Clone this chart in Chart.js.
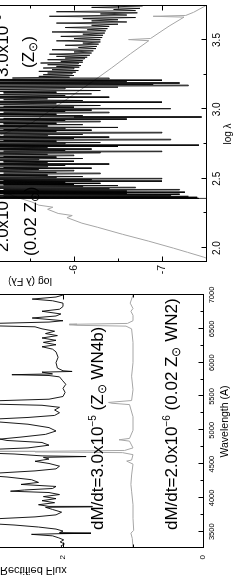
<!DOCTYPE html>
<html>
<head>
<meta charset="utf-8">
<script src="https://cdn.jsdelivr.net/npm/chart.js@4.4.1/dist/chart.umd.min.js"></script>
<style>
  html, body { margin: 0; padding: 0; background: #fff; overflow: hidden; width: 242px; height: 580px; }
  #turn { position: absolute; left: 0; top: 0; width: 580px; height: 422px;
          transform-origin: 0 0; transform: translate(-180px, 580px) rotate(-90deg); }
  #spec { position: absolute; left: 0; top: 0; }
  #sed { position: absolute; left: 286px; top: 0; }
  #fluxTitle { position: absolute; left: 0; top: 565px; font: 11px "Liberation Sans", Arial, sans-serif;
               line-height: 11px; white-space: nowrap; transform: scaleY(-1); }
</style>
</head>
<body>
<div id="turn">
  <canvas id="spec" width="300" height="422"></canvas>
  <canvas id="sed" width="294" height="422"></canvas>
</div>
<div id="fluxTitle">Rectified Flux</div>
<script>
'use strict';

// ---- data ----
// rectified spectra: [wavelength (A), flux]; the Z_sun WN4b model is shifted up by 1
const wn4bFlux = [
  [3260,2.00],[3290,2.03],[3320,1.98],[3350,2.04],[3380,1.99],[3410,2.06],[3440,2.15],[3462,2.45],
  [3472,2.05],[3478,1.60],[3486,2.05],[3510,2.00],[3540,2.10],[3570,2.35],[3600,2.70],[3630,3.20],
  [3660,3.40],[3690,3.00],[3720,2.40],[3750,2.10],[3790,2.02],[3830,2.15],[3862,2.25],[3868,1.58],
  [3875,2.20],[3900,2.35],[3930,2.12],[3960,2.30],[3990,2.10],[4020,2.28],[4050,2.05],[4080,2.20],
  [4100,2.75],[4118,2.55],[4140,2.15],[4170,2.10],[4200,2.60],[4230,2.35],[4270,2.45],[4310,2.80],
  [4340,3.20],[4370,2.90],[4400,2.40],[4430,2.10],[4470,2.05],[4510,2.20],[4542,2.40],[4575,2.20],
  [4600,2.28],[4612,1.67],[4622,2.30],[4650,2.70],[4675,3.40],[4690,3.70],[4705,3.30],[4740,2.50],
  [4780,2.20],[4820,2.30],[4850,2.80],[4870,2.90],[4900,2.60],[4940,2.25],[4990,2.10],[5040,2.20],
  [5090,2.50],[5130,3.00],[5160,3.10],[5190,2.50],[5220,2.12],[5260,2.05],[5300,2.12],[5340,2.05],
  [5370,2.30],[5395,3.30],[5415,3.60],[5435,3.00],[5460,2.20],[5500,2.00],[5560,1.97],[5620,2.00],
  [5680,1.96],[5740,2.01],[5790,2.05],[5810,2.20],[5822,2.73],[5834,2.15],[5860,2.30],[5870,1.87],
  [5880,2.00],[5920,2.08],[6000,2.10],[6080,2.07],[6160,2.10],[6200,2.15],[6235,2.30],[6265,2.10],
  [6300,2.28],[6330,2.10],[6365,2.30],[6400,2.08],[6430,2.25],[6465,2.12],[6500,2.30],[6530,2.40],
  [6550,3.20],[6565,3.70],[6580,3.00],[6600,2.20],[6620,2.00],[6660,2.44],[6690,2.10],[6720,2.03],
  [6760,2.30],[6790,2.05],[6830,2.00],[6880,2.00],[6915,2.15],[6940,2.44],[6970,2.10],[7000,2.00]
];
const wn2Flux = [
  [3260,1.00],[3400,1.01],[3480,1.03],[3520,0.99],[3700,1.00],[3900,1.00],[4100,1.02],[4200,1.03],
  [4340,1.02],[4500,1.00],[4530,1.06],[4545,1.09],[4560,1.02],[4640,1.00],[4670,1.15],[4680,2.40],
  [4686,3.30],[4692,2.40],[4702,1.12],[4740,1.00],[4840,1.05],[4860,1.20],[4880,1.05],[5000,1.00],
  [5200,1.00],[5380,1.05],[5400,1.30],[5412,1.35],[5425,1.20],[5440,1.02],[5600,1.00],[5800,1.02],
  [6000,1.00],[6300,1.00],[6500,1.02],[6540,1.10],[6552,1.80],[6560,1.91],[6568,1.80],[6580,1.08],
  [6620,1.00],[6700,1.00],[6760,1.03],[6800,1.00],[6880,1.04],[6940,1.02],[7000,1.00]
];

// spectral energy distributions: [log lambda, log(lambda F_lambda)]
const wn4bSed = [
  [2.350,-7.8],[2.356,-7.8],[2.357,-5.0],[2.360,-7.42],[2.363,-5.1],[2.366,-7.4],[2.369,-5.2],[2.372,-7.3],
  [2.375,-5.0],[2.378,-7.1],[2.381,-5.1],[2.384,-6.9],[2.387,-5.2],[2.390,-7.2],[2.393,-5.0],[2.396,-6.6],
  [2.399,-5.1],[2.403,-7.26],[2.407,-5.1],[2.411,-6.6],[2.415,-5.0],[2.419,-7.2],[2.423,-5.2],[2.427,-6.4],
  [2.431,-5.0],[2.435,-6.7],[2.439,-5.1],[2.443,-6.1],[2.447,-5.0],[2.451,-6.5],[2.455,-5.2],[2.459,-6.0],
  [2.463,-5.0],[2.467,-6.3],[2.471,-5.1],[2.475,-5.9],[2.479,-5.0],[2.483,-7.0],[2.487,-5.2],[2.491,-6.2],
  [2.495,-5.0],[2.499,-7.0],[2.503,-5.1],[2.507,-5.8],[2.511,-5.0],[2.516,-6.1],[2.521,-5.1],[2.526,-5.7],
  [2.531,-5.0],[2.536,-6.3],[2.541,-5.2],[2.546,-5.8],[2.551,-5.0],[2.556,-6.0],[2.561,-5.1],[2.566,-5.6],
  [2.571,-5.0],[2.576,-6.2],[2.581,-5.2],[2.586,-5.7],[2.591,-5.0],[2.596,-5.9],[2.601,-5.1],[2.606,-6.4],
  [2.611,-5.0],[2.616,-5.7],[2.621,-5.2],[2.626,-6.0],[2.631,-5.0],[2.636,-5.6],[2.641,-5.1],[2.646,-6.1],
  [2.651,-5.0],[2.656,-5.8],[2.661,-5.2],[2.666,-6.0],[2.671,-5.0],[2.676,-5.7],[2.681,-5.1],[2.686,-6.3],
  [2.691,-5.0],[2.695,-7.0],[2.699,-5.2],[2.704,-5.9],[2.709,-5.0],[2.714,-6.2],[2.719,-5.1],[2.724,-5.7],
  [2.729,-5.0],[2.734,-6.5],[2.738,-5.1],[2.742,-7.42],[2.746,-5.0],[2.751,-5.9],[2.756,-5.1],[2.761,-6.3],
  [2.766,-5.0],[2.771,-5.8],[2.776,-5.2],[2.780,-7.1],[2.785,-5.0],[2.790,-6.0],[2.795,-5.1],[2.800,-6.4],
  [2.805,-5.0],[2.810,-5.7],[2.815,-5.2],[2.820,-6.1],[2.825,-5.0],[2.830,-7.0],[2.835,-5.1],[2.840,-5.8],
  [2.845,-5.0],[2.850,-6.2],[2.855,-5.2],[2.860,-5.9],[2.865,-5.0],[2.870,-6.5],[2.875,-5.1],[2.880,-5.7],
  [2.885,-5.0],[2.890,-6.1],[2.895,-5.2],[2.900,-5.8],[2.905,-5.0],[2.910,-6.3],[2.915,-5.1],[2.920,-5.9],
  [2.925,-5.0],[2.930,-6.6],[2.935,-5.2],[2.940,-6.0],[2.945,-7.45],[2.950,-5.0],[2.955,-6.1],[2.960,-5.1],
  [2.965,-5.8],[2.970,-5.0],[2.975,-6.4],[2.980,-5.2],[2.985,-5.9],[2.990,-5.0],[2.995,-6.2],[3.000,-5.1],
  [3.005,-7.1],[3.010,-5.0],[3.016,-6.0],[3.022,-5.2],[3.028,-6.3],[3.034,-5.0],[3.040,-5.8],[3.046,-5.1],
  [3.052,-7.0],[3.058,-5.0],[3.064,-6.1],[3.070,-5.2],[3.076,-5.7],[3.082,-5.0],[3.088,-6.4],[3.094,-5.1],
  [3.100,-5.9],[3.106,-5.0],[3.112,-6.2],[3.118,-5.2],[3.124,-5.8],[3.130,-5.0],[3.136,-6.3],[3.142,-5.1],
  [3.148,-5.9],[3.154,-5.0],[3.160,-6.5],[3.165,-4.9],[3.170,-7.3],[3.175,-4.8],[3.180,-6.9],[3.185,-4.9],
  [3.190,-7.2],[3.195,-5.0],[3.200,-6.6],[3.205,-4.8],[3.210,-7.0],[3.215,-5.0],[3.220,-6.4],[3.226,-5.3],
  [3.232,-5.95],[3.238,-5.6],[3.244,-6.0],[3.250,-5.65],[3.256,-5.98],[3.262,-5.7],[3.268,-6.02],[3.274,-5.6],
  [3.280,-6.05],[3.286,-5.75],[3.292,-6.0],[3.298,-5.65],[3.304,-6.06],[3.310,-5.8],[3.316,-6.08],[3.322,-5.7],
  [3.328,-6.05],[3.334,-5.62],[3.340,-6.1],[3.346,-5.85],[3.352,-6.1],[3.358,-5.7],[3.364,-6.12],[3.370,-5.9],
  [3.376,-6.15],[3.382,-5.8],[3.390,-6.18],[3.398,-5.72],[3.406,-6.2],[3.414,-6.0],[3.422,-6.22],[3.430,-5.75],
  [3.438,-6.25],[3.446,-6.05],[3.454,-6.26],[3.462,-5.9],[3.470,-6.28],[3.478,-6.1],[3.486,-6.3],[3.494,-5.8],
  [3.502,-6.3],[3.510,-6.0],[3.518,-6.32],[3.526,-5.85],[3.534,-6.33],[3.542,-6.1],[3.550,-6.35],[3.558,-5.75],
  [3.566,-6.36],[3.574,-6.15],[3.582,-6.38],[3.590,-5.9],[3.598,-6.4],[3.606,-6.2],[3.614,-6.5],[3.622,-5.8],
  [3.630,-6.6],[3.638,-6.2],[3.646,-6.5],[3.654,-6.1],[3.662,-6.7],[3.671,-5.72],[3.680,-6.6],[3.688,-6.3],
  [3.696,-6.72],[3.704,-5.8],[3.712,-6.7],[3.720,-6.45],[3.728,-6.75],[3.735,-6.2],[3.745,-6.78]
];
const wn2Sed = [
  [1.900,-7.62],[1.936,-7.47],[1.970,-7.29],[2.000,-7.13],[2.050,-6.85],[2.100,-6.55],[2.150,-6.27],
  [2.180,-6.09],[2.220,-5.92],[2.235,-5.98],[2.250,-5.82],[2.280,-5.70],[2.295,-5.76],[2.310,-5.60],
  [2.333,-5.52],[2.360,-5.38],[2.400,-5.22],[2.450,-5.06],[2.500,-4.96],[2.600,-4.86],[2.700,-4.90],
  [2.800,-5.10],[2.850,-5.30],[2.902,-5.52],[3.000,-5.75],[3.100,-5.98],[3.200,-6.21],[3.300,-6.43],
  [3.400,-6.64],[3.495,-6.85],[3.503,-6.62],[3.511,-6.87],[3.600,-7.08],[3.665,-7.25],[3.671,-6.90],
  [3.677,-7.27],[3.700,-7.36],[3.738,-7.47],[3.760,-7.53]
];

const waveRange = [3260, 7000];
const waveTicks = [3500, 4000, 4500, 5000, 5500, 6000, 6500, 7000];
const waveMinor = [3750, 4250, 4750, 5250, 5750, 6250, 6750];
const fluxRange = [0, 5];
const fluxTicks = [0, 2, 4];
const fluxMinor = [1, 3];
const logLamRange = [1.9, 3.745];
const logLamTicks = [2.0, 2.5, 3.0, 3.5];
const logLamMinor = [2.25, 2.75, 3.25];
const logFRange = [-7.5, -3.5];
const logFTicks = [-7, -6, -5, -4];
const logFMinor = [-7.5, -6.5, -5.5, -4.5];

const FONT = '"Liberation Sans", Arial, sans-serif';
const BIG = 17, SUP = 10, SUN = 12;

// text labels: anchor in data units, then pieces of rich text
const specNotes = [
  { at: [3526, 1.43], parts: [['dM/dt=3.0x10', BIG, 0], ['\u22125', SUP, -7], [' (Z', BIG, 0], ['\u2299', SUN, 3], [' WN4b)', BIG, 0]] },
  { at: [3526, 0.37], parts: [['dM/dt=2.0x10', BIG, 0], ['\u22126', SUP, -7], [' (0.02 Z', BIG, 0], ['\u2299', SUN, 3], [' WN2)', BIG, 0]] }
];
const sedNotes = [
  { at: [3.234, -5.25], parts: [['3.0x10', BIG, 0], ['\u22125', SUP, -7]] },
  { at: [3.299, -5.55], parts: [['(Z', BIG, 0], ['\u2299', SUN, 3], [')', BIG, 0]] },
  { at: [1.972, -5.25], parts: [['2.0x10', BIG, 0], ['\u22126', SUP, -7]] },
  { at: [1.943, -5.57], parts: [['(0.02 Z', BIG, 0], ['\u2299', SUN, 3], [')', BIG, 0]] }
];

function toPoints(arr) {
  return arr.map(p => ({ x: p[0], y: p[1] }));
}

// box round the plot with inward tick marks on every side
function makeFrame(xMajor, xMinor, yMajor, yMinor) {
  return {
    id: 'frame',
    afterDatasetsDraw(chart) {
      const ctx = chart.ctx;
      const a = chart.chartArea;
      const sx = chart.scales.x, sy = chart.scales.y;
      const L = Math.round(a.left) + 0.5, R = Math.round(a.right) + 0.5;
      const T = Math.round(a.top) + 0.5, B = Math.round(a.bottom) + 0.5;
      ctx.save();
      ctx.strokeStyle = '#000';
      ctx.lineWidth = 1;
      ctx.strokeRect(L, T, R - L, B - T);
      ctx.beginPath();
      const xm = (vals, len) => vals.forEach(v => {
        const p = Math.round(sx.getPixelForValue(v)) + 0.5;
        if (p <= L || p >= R) return;
        ctx.moveTo(p, B); ctx.lineTo(p, B - len);
        ctx.moveTo(p, T); ctx.lineTo(p, T + len);
      });
      const ym = (vals, len) => vals.forEach(v => {
        const p = Math.round(sy.getPixelForValue(v)) + 0.5;
        if (p <= T || p >= B) return;
        ctx.moveTo(L, p); ctx.lineTo(L + len, p);
        ctx.moveTo(R, p); ctx.lineTo(R - len, p);
      });
      xm(xMajor, 5); xm(xMinor, 3); ym(yMajor, 5); ym(yMinor, 3);
      ctx.stroke();
      ctx.restore();
    }
  };
}

function makeNotes(items) {
  return {
    id: 'notes',
    afterDatasetsDraw(chart) {
      const ctx = chart.ctx;
      ctx.save();
      ctx.fillStyle = '#000';
      ctx.textBaseline = 'alphabetic';
      ctx.textAlign = 'left';
      items.forEach(item => {
        let px = chart.scales.x.getPixelForValue(item.at[0]);
        const py = chart.scales.y.getPixelForValue(item.at[1]);
        item.parts.forEach(([t, size, dy]) => {
          ctx.font = size + 'px ' + FONT;
          ctx.fillText(t, px, py + dy);
          px += ctx.measureText(t).width;
        });
      });
      ctx.restore();
    }
  };
}

function lineSet(arr, color, width) {
  return { data: toPoints(arr), borderColor: color, borderWidth: width, pointRadius: 0,
           borderJoinStyle: 'bevel', fill: false, tension: 0 };
}

const commonOpts = {
  responsive: false,
  animation: false,
  events: [],
  plugins: { legend: { display: false }, tooltip: { enabled: false } }
};

new Chart(document.getElementById('spec'), {
  type: 'line',
  data: { datasets: [lineSet(wn4bFlux, '#000', 0.9), lineSet(wn2Flux, '#a6a6a6', 1)] },
  options: Object.assign({}, commonOpts, {
    layout: { padding: { left: 0, right: 15, top: 33, bottom: 0 } },
    scales: {
      x: {
        type: 'linear', min: waveRange[0], max: waveRange[1],
        afterFit(s) { s.height = 39; },
        afterBuildTicks(s) { s.ticks = waveTicks.map(v => ({ value: v })); },
        grid: { display: false, drawTicks: false }, border: { display: false },
        ticks: { padding: 4, color: '#000', maxRotation: 0, autoSkip: false, font: { size: 7.5, family: FONT },
                 callback: v => String(v) },
        title: { display: true, text: 'Wavelength (A)', color: '#000', font: { size: 10.5, family: FONT },
                 padding: { top: 0, bottom: 10.7 } }
      },
      y: {
        type: 'linear', min: fluxRange[0], max: fluxRange[1],
        afterFit(s) { s.width = 32; },
        afterBuildTicks(s) { s.ticks = fluxTicks.map(v => ({ value: v })); },
        grid: { display: false, drawTicks: false }, border: { display: false },
        ticks: { padding: 7, color: '#000', font: { size: 8, family: FONT } }
      }
    }
  }),
  plugins: [makeFrame(waveTicks, waveMinor, fluxTicks, fluxMinor), makeNotes(specNotes)]
});

new Chart(document.getElementById('sed'), {
  type: 'line',
  data: { datasets: [lineSet(wn4bSed, '#000', 0.8), lineSet(wn2Sed, '#a6a6a6', 1)] },
  options: Object.assign({}, commonOpts, {
    layout: { padding: { left: 0, right: 6, top: 34, bottom: 0 } },
    scales: {
      x: {
        type: 'linear', min: logLamRange[0], max: logLamRange[1],
        afterFit(s) { s.height = 36; },
        afterBuildTicks(s) { s.ticks = logLamTicks.map(v => ({ value: v })); },
        grid: { display: false, drawTicks: false }, border: { display: false },
        ticks: { padding: 5, color: '#000', maxRotation: 0, autoSkip: false, font: { size: 10, family: FONT },
                 callback: v => v.toFixed(1) },
        title: { display: true, text: 'log \u03bb', color: '#000', font: { size: 10, family: FONT },
                 padding: { top: 0, bottom: 8 } }
      },
      y: {
        type: 'linear', min: logFRange[0], max: logFRange[1],
        afterFit(s) { s.width = 32; },
        afterBuildTicks(s) { s.ticks = logFTicks.map(v => ({ value: v })); },
        grid: { display: false, drawTicks: false }, border: { display: false },
        ticks: { padding: 3, color: '#000', font: { size: 10.5, family: FONT } },
        title: { display: true, text: 'log (\u03bb F\u03bb)', color: '#000', font: { size: 10.5, family: FONT },
                 padding: { top: 6.7, bottom: 0 } }
      }
    }
  }),
  plugins: [makeFrame(logLamTicks, logLamMinor, logFTicks, logFMinor), makeNotes(sedNotes)]
});
</script>
</body>
</html>
